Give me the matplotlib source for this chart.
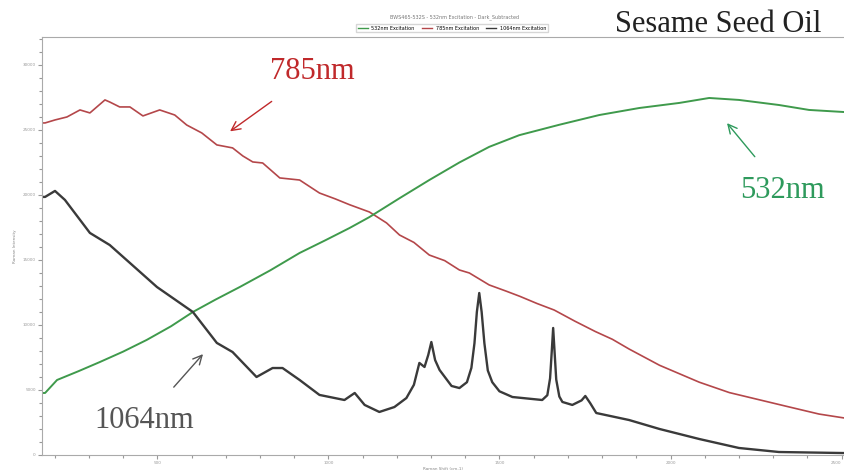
import matplotlib.pyplot as plt
from matplotlib.ticker import MultipleLocator

# Raman shift (cm-1) / intensity
x_785 = [163, 172, 201, 236, 274, 303, 347, 361, 390, 420, 458, 507, 551, 586, 630, 674, 720,
         750, 779, 808, 858, 916, 974, 1020, 1062, 1120, 1170, 1208, 1250, 1295, 1340, 1383,
         1412, 1470, 1520, 1560, 1610, 1660, 1720, 1780, 1830, 1879, 1968, 2084, 2172, 2259,
         2346, 2434, 2507]
y_785 = [25540, 25540, 25770, 26000, 26540, 26310, 27310, 27150, 26770, 26770, 26080, 26540,
         26150, 25380, 24770, 23850, 23620, 23000, 22540, 22460, 21310, 21150, 20150, 19700,
         19250, 18690, 17850, 16920, 16350, 15380, 14950, 14230, 14000, 13080, 12600, 12200,
         11650, 11150, 10300, 9500, 8900, 8150, 6900, 5600, 4800, 4250, 3700, 3150, 2850]

x_532 = [163, 172, 207, 270, 332, 400, 469, 540, 604, 670, 741, 830, 916, 990, 1062, 1120,
         1208, 1295, 1383, 1470, 1558, 1675, 1792, 1909, 2026, 2113, 2200, 2317, 2405, 2507]
y_532 = [4770, 4770, 5770, 6450, 7150, 7950, 8850, 9900, 11000, 11950, 12920, 14200, 15540,
         16500, 17460, 18300, 19750, 21150, 22500, 23700, 24600, 25400, 26150, 26690, 27080,
         27460, 27310, 26920, 26540, 26380]

x_1064 = [163, 172, 201, 230, 303, 361, 420, 499, 604, 674, 720, 790, 837, 866, 916, 974,
          1047, 1077, 1106, 1149, 1193, 1228, 1250, 1266, 1281, 1292, 1301, 1312, 1325, 1360,
          1383, 1405, 1418, 1427, 1434, 1441, 1448, 1456, 1466, 1479, 1500, 1538, 1625, 1640,
          1648, 1653, 1657, 1661, 1666, 1675, 1684, 1713, 1740, 1751, 1765, 1783, 1879, 1968,
          2084, 2200, 2317, 2507]
y_1064 = [19850, 19850, 20310, 19620, 17080, 16150, 14770, 12920, 11000, 8620, 7920, 6000,
          6690, 6690, 5770, 4620, 4230, 4770, 3850, 3310, 3690, 4380, 5400, 7080, 6770, 7700,
          8690, 7300, 6540, 5310, 5150, 5600, 6700, 8600, 11000, 12460, 11000, 8600, 6500, 5600,
          4900, 4460, 4230, 4600, 5900, 8000, 9770, 8000, 5800, 4500, 4080, 3850, 4200, 4540,
          4000, 3230, 2690, 2000, 1230, 540, 230, 150]

x_ticks = [500, 1000, 1500, 2000, 2500]

fig = plt.figure(figsize=(8.45, 4.72), dpi=100)
ax = fig.add_axes([42 / 845, 17 / 472, 1 - 42 / 845, 418 / 472])

ax.plot(x_785, y_785, color='#b4474a', lw=1.2)
ax.plot(x_532, y_532, color='#3f9a4c', lw=1.4)
ax.plot(x_1064, y_1064, color='#3a3a3a', lw=1.7)

ax.set_xlim(163, 2510)
ax.set_ylim(0, 32150)
ax.set_xticks(x_ticks)
ax.xaxis.set_minor_locator(MultipleLocator(100))
ax.yaxis.set_major_locator(MultipleLocator(5000))
ax.yaxis.set_minor_locator(MultipleLocator(1000))
ax.tick_params(which='both', colors='#999999', labelsize=3, length=2, width=0.8, pad=1.5)
ax.tick_params(which='major', length=3)
ax.get_xticklabels()[-1].set_horizontalalignment('right')
for s in ['left', 'bottom', 'top']:
    ax.spines[s].set_color('#aaaaaa')
ax.spines['right'].set_visible(False)
ax.set_xlabel('Raman Shift (cm-1)', fontsize=3, color='#888888', labelpad=1)
ax.set_ylabel('Raman Intensity', fontsize=3, color='#888888', labelpad=4)

fig.text(455 / 845, 1 - 17 / 472, 'BWS465-532S - 532nm Excitation - Dark_Subtracted',
         fontsize=3.5, color='#777777', ha='center', va='center')
h = [plt.Line2D([], [], color=c, lw=1) for c in ['#3f9a4c', '#b4474a', '#3a3a3a']]
fig.legend(h, ['532nm Excitation', '785nm Excitation', '1064nm Excitation'],
           loc='center', bbox_to_anchor=(452 / 845, 1 - 28 / 472), ncol=3, fontsize=3.5,
           frameon=True, fancybox=False, edgecolor='#cccccc', handlelength=2,
           borderpad=0.3, columnspacing=1.5)

fig.text(718 / 845, 1 - 24 / 472, 'Sesame Seed Oil', fontsize=22, family='Liberation Serif',
         color='#222222', ha='center', va='center')

ax.annotate('785nm', xy=(706, 24770), xytext=(954, 29460), fontsize=22,
            family='Liberation Serif', color='#c0292b', ha='center', va='center',
            arrowprops=dict(arrowstyle='->', color='#c0292b', lw=1, shrinkA=15, mutation_scale=16))
ax.annotate('532nm', xy=(2160, 25690), xytext=(2327, 20380), fontsize=22,
            family='Liberation Serif', color='#2e9a5c', ha='center', va='center',
            arrowprops=dict(arrowstyle='->', color='#2e9a5c', lw=1, shrinkA=15, mutation_scale=16))
ax.annotate('1064nm', xy=(639, 7920), xytext=(463, 2690), fontsize=22,
            family='Liberation Serif', color='#555555', ha='center', va='center',
            arrowprops=dict(arrowstyle='->', color='#555555', lw=1, shrinkA=15, mutation_scale=16))

fig.savefig('out.png', dpi=100)
